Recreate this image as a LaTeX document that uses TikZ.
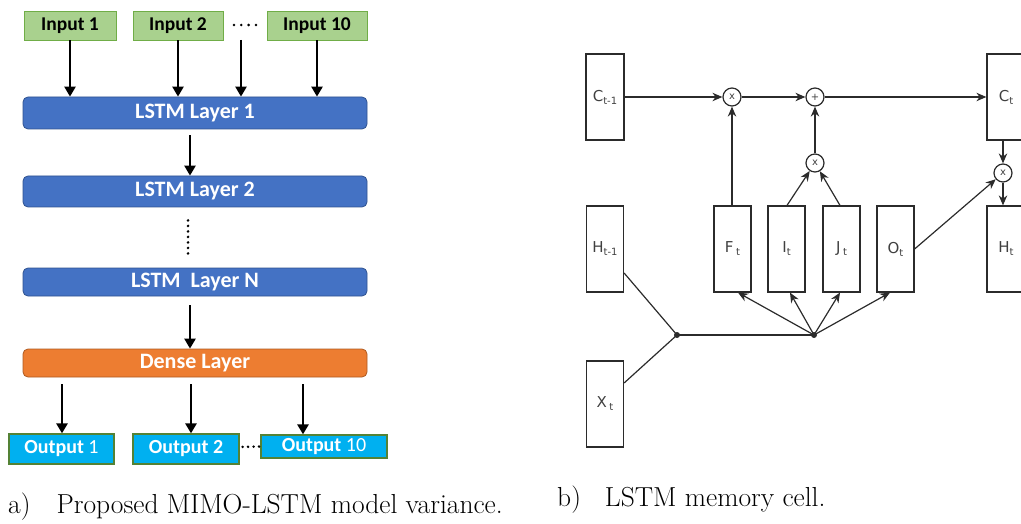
\documentclass[tikz,border=0pt]{standalone}
\usepackage{fontspec}
\usetikzlibrary{arrows.meta,calc}
\newfontfamily\calfont{Carlito}
\newfontfamily\dvfont{DejaVu Sans}
\definecolor{ingreen}{HTML}{A9D18E}
\definecolor{inborder}{HTML}{70AD47}
\definecolor{lstmblue}{HTML}{4472C4}
\definecolor{lstmborder}{HTML}{2F528F}
\definecolor{denseorange}{HTML}{ED7D31}
\definecolor{denseborder}{HTML}{AE5A21}
\definecolor{outcyan}{HTML}{00B0F0}
\definecolor{outborder}{HTML}{548235}
\definecolor{cellgray}{HTML}{2B2B2B}
\definecolor{labelgray}{HTML}{404040}
\newcommand{\lsub}[1]{\raisebox{-3pt}{\fontsize{10}{10}\selectfont #1}}
\begin{document}
\begin{tikzpicture}[x=1pt,y=-1pt,
  inbox/.style={draw=inborder, fill=ingreen, line width=0.8pt, minimum height=29pt, inner sep=0pt,
    font=\calfont\bfseries\fontsize{19.5}{19.5}\selectfont},
  layerbox/.style={draw=lstmborder, fill=lstmblue, line width=0.8pt, rounded corners=5pt, minimum width=344pt,
    inner sep=0pt, text=white, font=\calfont\bfseries\fontsize{22}{22}\selectfont},
  densebox/.style={layerbox, draw=denseborder, fill=denseorange},
  outbox/.style={draw=outborder, fill=outcyan, line width=1.2pt, inner sep=0pt, text=white,
    font=\calfont\fontsize{20}{20}\selectfont},
  bigarrow/.style={line width=2.6pt, -{Triangle[width=11pt,length=10pt]}},
  dotline/.style={line width=2.8pt, line cap=round, dash pattern=on 0pt off 5.5pt},
  cellbox/.style={draw=cellgray, line width=1.2pt, minimum width=37pt, minimum height=86pt, inner sep=0pt,
    text=labelgray, font=\dvfont\fontsize{15}{15}\selectfont},
  opnode/.style={circle, draw=cellgray, line width=1.2pt, minimum size=18pt, inner sep=0pt,
    text=labelgray, font=\dvfont\fontsize{10}{10}\selectfont},
  carrow/.style={draw=cellgray, line width=1.2pt, -{Stealth[width=8.5pt,length=10pt]}},
  cline/.style={draw=cellgray, line width=1.2pt},
  jdot/.style={circle, fill=cellgray, minimum size=6pt, inner sep=0pt},
  caption/.style={anchor=base west, inner sep=0pt, font=\fontsize{27.5}{27.5}\selectfont}
]
\useasboundingbox (0,0) rectangle (1021,524);

% ---------- left: MIMO-LSTM ----------
\node[inbox, minimum width=92pt] (in1) at (70,25.5) {Input 1};
\node[inbox, minimum width=90pt] (in2) at (178,25.5) {Input 2};
\node[inbox, minimum width=100pt] (in10) at (317,25.5) {Input 10};
\coordinate (indotsa) at (234,25);
\coordinate (indotsb) at (256,25);
\draw[dotline, dash pattern=on 0pt off 7.3pt] (indotsa) -- (indotsb);
\coordinate (indots) at (241,40);

\node[layerbox, minimum height=32pt] (l1) at (195,113) {LSTM Layer 1};
\node[layerbox, minimum height=31pt] (l2) at (195,191.5) {LSTM Layer 2};
\node[layerbox, minimum height=28pt] (lN) at (195,282) {LSTM\ \ Layer N};
\node[densebox, minimum height=28pt] (dense) at (195,363) {Dense Layer};

\node[outbox, minimum width=105pt, minimum height=30pt] (out1) at (61.5,449) {\textbf{Output} 1};
\node[outbox, minimum width=106pt, minimum height=30pt] (out2) at (186,449) {\textbf{Output 2}};
\node[outbox, minimum width=126pt, minimum height=23pt] (out10) at (324,446.5) {\textbf{Output} 10};

\draw[bigarrow] (in1.south) -- (in1.south |- l1.north);
\draw[bigarrow] (in2.south) -- (in2.south |- l1.north);
\draw[bigarrow] (indots) -- (indots |- l1.north);
\draw[bigarrow] (in10.south) -- (in10.south |- l1.north);

\coordinate (cx) at (190,0);
\coordinate (dx) at (188,0);
\draw[bigarrow, shorten <=6pt] (l1.south -| cx) -- (l2.north -| cx);
\draw[dotline] ($(l2.south -| dx)+(0,13)$) -- ($(lN.north -| dx)+(0,-11)$);
\draw[bigarrow, shorten <=9pt] (lN.south -| cx) -- (dense.north -| cx);

\coordinate (ox1) at (62,0);
\coordinate (ox2) at (191,0);
\coordinate (ox3) at (303,0);
\draw[bigarrow, shorten <=7pt] (dense.south -| ox1) -- (out1.north -| ox1);
\draw[bigarrow, shorten <=7pt] (dense.south -| ox2) -- (out2.north -| ox2);
\draw[bigarrow, shorten <=7pt] (dense.south -| ox3) -- (out10.north -| ox3);
\draw[dotline, shorten <=3pt] ($(out2.east)+(0,-2)$) -- (out10.west);

\node[caption] (capa) at (8,513) {a)\hspace{26pt}Proposed MIMO-LSTM model variance.};

% ---------- right: LSTM memory cell ----------
\node[cellbox, minimum width=38pt] (ct1) at (605,97) {C\lsub{t-1}};
\node[cellbox, minimum width=38pt] (ct) at (1006,97) {C\lsub{t}};
\node[cellbox] (ht1) at (605,249) {H\lsub{t-1}};
\node[cellbox] (ft) at (732.5,249) {F\,\lsub{t}};
\node[cellbox] (it) at (786.5,249) {I\lsub{t}};
\node[cellbox] (jt) at (841.5,249) {J\,\lsub{t}};
\node[cellbox] (ot) at (895.5,249) {O\lsub{t}};
\node[cellbox, minimum width=38pt] (ht) at (1006,249) {H\lsub{t}};
\node[cellbox] (xt) at (605,404) {X\,\lsub{t}};

\node[opnode] (m1) at (732,97) {x};
\node[opnode] (p1) at (815,97) {+};
\node[opnode] (m2) at (815,163) {x};
\node[opnode] (m3) at (1003,173) {x};

\node[jdot] (d1) at (677,335) {};
\node[jdot] (d2) at (814,335) {};

\draw[carrow] (ct1.east) -- (m1);
\draw[carrow] (m1) -- (p1);
\draw[carrow] (p1) -- (ct.west);
\draw[carrow] (ft.north -| m1) -- (m1);
\draw[carrow] ($(it.north)+(0.5,0)$) -- (m2);
\draw[carrow] ($(jt.north)+(-1.5,0)$) -- (m2);
\draw[carrow] (m2) -- (p1);
\draw[carrow] (ct.south -| m3) -- (m3);
\draw[carrow] (m3) -- (ht.north -| m3);
\draw[carrow] (ot.east) -- (m3);

\draw[cline] ($(ht1.east)+(0,24)$) -- (d1.center);
\draw[cline] ($(xt.east)+(0,-21)$) -- (d1.center);
\draw[cline] (d1.center) -- (d2.center);
\draw[carrow] (d2.center) -- ($(ft.south)+(5.5,0)$);
\draw[carrow] (d2.center) -- ($(it.south)+(3.5,0)$);
\draw[carrow] (d2.center) -- ($(jt.south)+(-1.5,0)$);
\draw[carrow] (d2.center) -- ($(ot.south)+(-5.5,0)$);

\node[caption] (capb) at (557,506) {b)\hspace{24pt}LSTM memory cell.};
\end{tikzpicture}
\end{document}
